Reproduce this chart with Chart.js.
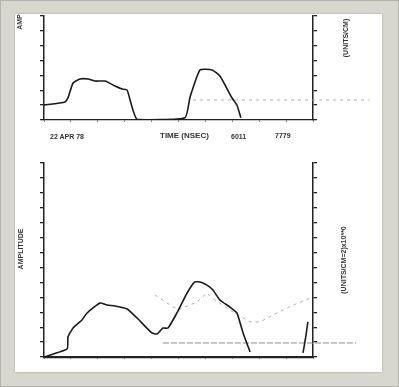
<!DOCTYPE html>
<html>
<head>
<meta charset="utf-8">
<script src="https://cdn.jsdelivr.net/npm/chart.js@4/dist/chart.umd.min.js"></script>
<style>
  html, body { margin: 0; padding: 0; }
  body { width: 399px; height: 387px; background: #d8d7cf; position: relative; overflow: hidden; }
  #frame { position: absolute; left: 0; top: 0; width: 397px; height: 385px; border: 1px solid #b4b3ab; }
  #paper { position: absolute; left: 15px; top: 14px; width: 367px; height: 358px; background: #fff;
           box-shadow: 0 0 2px #9e9d96; }
  canvas { position: absolute; left: 0; }
  .lbl { position: absolute; font: bold 7px "Liberation Sans", sans-serif; color: #333; white-space: nowrap; }
  .rot { transform: translate(-50%, -50%) rotate(-90deg); }
</style>
</head>
<body>
<div id="frame"></div>
<div id="paper"></div>
<canvas id="topChart" width="399" height="140" style="top:0"></canvas>
<canvas id="lowChart" width="399" height="230" style="top:150px"></canvas>

<div class="lbl rot" style="left:19px;top:22px">AMP</div>
<div class="lbl rot" style="left:345px;top:38px">(UNITS/CM)</div>
<div class="lbl" style="left:50px;top:133px">22 APR 78</div>
<div class="lbl" style="left:160px;top:131px;font-size:8px">TIME (NSEC)</div>
<div class="lbl" style="left:231px;top:133px">6011</div>
<div class="lbl" style="left:275px;top:132px">7779</div>
<div class="lbl rot" style="left:20px;top:249px">AMPLITUDE</div>
<div class="lbl rot" style="left:343px;top:260px">(UNITS/CM=2)x10**0</div>

<script>
// #Top trace
var topTime = [0, 7.8, 8.9, 10.8, 13.4, 16.4, 19.0, 22.7, 26.4, 29.0, 30.9, 34.6, 52.4, 54.3, 58.0, 62.5, 65.4, 69.9, 71.7, 73.2];
var topAmp  = [1.0, 1.21, 1.48, 2.49, 2.76, 2.76, 2.62, 2.62, 2.29, 2.09, 2.02, 0.05, 0.15, 1.55, 3.37, 3.37, 2.96, 1.48, 1.01, 0.15];
var topRefTime = [55.4, 121];
var topRefAmp  = [1.35, 1.35];

// #Lower trace
var lowTime = [0, 8.6, 8.9, 10.8, 14.1, 16.0, 20.8, 23.4, 26.4, 30.9, 34.6, 40.1, 42.0, 44.2, 46.1, 49.4, 53.2, 56.1, 58.0, 60.6, 62.8, 65.4, 69.1, 71.7, 74.0, 76.6];
var lowAmp  = [0, 0.54, 1.34, 1.94, 2.48, 2.95, 3.62, 3.48, 3.42, 3.22, 2.61, 1.61, 1.54, 1.94, 1.94, 2.95, 4.29, 5.03, 5.03, 4.82, 4.49, 3.82, 3.35, 2.95, 1.61, 0.34];
var edgeTime = [96.3, 97.4, 98.1];
var edgeAmp  = [0.27, 1.47, 2.35];
var faintTime = [41.3, 45.7, 49.8, 56.9, 60.6, 62.5, 69.1, 76.6, 80.3, 86.6, 92.6, 100];
var faintAmp  = [4.15, 3.62, 3.15, 3.69, 4.29, 3.95, 3.15, 2.35, 2.35, 2.95, 3.48, 4.02];
var lowRefTime = [44.2, 116];
var lowRefAmp  = [0.94, 0.94];

function pts(xs, ys) {
  return xs.map(function (x, i) { return {x: x, y: ys[i]}; });
}

function axisY(pos, max, w) {
  return {
    type: "linear", position: pos, min: 0, max: max,
    ticks: {display: false, stepSize: 1},
    grid: {drawOnChartArea: false, tickLength: 4, color: "#222", lineWidth: 1.3},
    border: {color: "#222", width: 1.5},
    afterFit: function (s) { s.width = w; }
  };
}

function axisX(bw) {
  return {
    type: "linear", min: 0, max: 100,
    ticks: {display: false, stepSize: 10},
    grid: {drawOnChartArea: false, tickLength: 2, color: "#888", lineWidth: 1},
    border: {color: "#222", width: bw},
    afterFit: function (s) { s.height = 3; }
  };
}

var trace = {borderColor: "#1a1a1a", borderWidth: 1.6, pointRadius: 0, tension: 0.15, fill: false};
var dashed = {borderColor: "#9a9a9a", borderWidth: 0.8, borderDash: [3, 4], pointRadius: 0, fill: false, clip: false};
var refLine = {borderColor: "#8a8a8a", borderWidth: 1, borderDash: [6, 2], pointRadius: 0, fill: false, clip: false};

new Chart("topChart", {
  type: "line",
  data: {
    datasets: [
      Object.assign({data: pts(topTime, topAmp)}, trace),
      Object.assign({data: pts(topRefTime, topRefAmp)}, dashed)
    ]
  },
  options: {
    responsive: false, animation: false, devicePixelRatio: 1,
    layout: {padding: {left: 40, right: 81, top: 16, bottom: 17}},
    plugins: {legend: {display: false}, tooltip: {enabled: false}},
    scales: {x: axisX(1.2), y: axisY("left", 7, 4), y2: axisY("right", 7, 5)}
  }
});

new Chart("lowChart", {
  type: "line",
  data: {
    datasets: [
      Object.assign({data: pts(lowTime, lowAmp)}, trace),
      Object.assign({data: pts(edgeTime, edgeAmp)}, trace),
      Object.assign({data: pts(faintTime, faintAmp)}, dashed),
      Object.assign({data: pts(lowRefTime, lowRefAmp)}, refLine)
    ]
  },
  options: {
    responsive: false, animation: false, devicePixelRatio: 1,
    layout: {padding: {left: 40, right: 81, top: 13, bottom: 20}},
    plugins: {legend: {display: false}, tooltip: {enabled: false}},
    scales: {x: axisX(2.2), y: axisY("left", 13, 4), y2: axisY("right", 13, 5)}
  }
});
</script>
</body>
</html>
